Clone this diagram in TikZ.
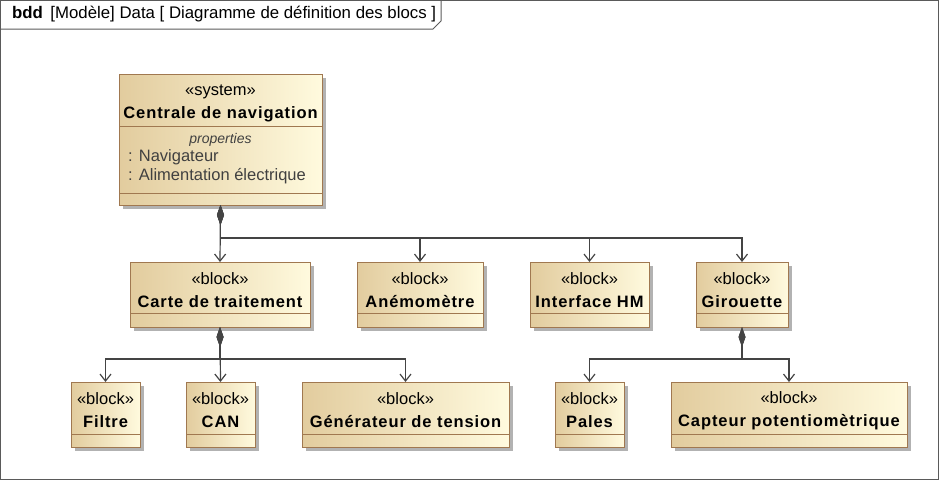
\documentclass[tikz,border=0pt]{standalone}
\usepackage{fontspec}
\setmainfont{Liberation Sans}
\newfontfamily\blkfont[LetterSpace=5.5]{Liberation Sans}
\usetikzlibrary{positioning,shadows,arrows.meta}
\definecolor{tanL}{RGB}{226,204,158}
\definecolor{tanR}{RGB}{255,250,222}
\definecolor{bdr}{RGB}{160,120,80}
\definecolor{ln}{RGB}{68,68,68}
\definecolor{frm}{RGB}{90,90,90}
\begin{document}
\begin{tikzpicture}[x=1pt,y=-1pt,
    blk/.style={draw=bdr, line width=1pt, outer sep=0pt, inner sep=0pt,
      left color=tanL, right color=tanR, align=center,
      drop shadow={shadow xshift=4pt, shadow yshift=-4pt, fill=black!30, opacity=1},
      font=\fontsize{16.5}{23}\selectfont},
    comp/.style={draw=ln, line width=1.2pt,
      {Diamond[length=20pt,width=7pt]}-{Straight Barb[length=7pt,width=11pt]}},
    prop/.style={anchor=west, inner sep=0pt, text=black!75,
      font=\fontsize{16.5}{18}\selectfont}]
    \useasboundingbox (0,0) rectangle (939,480);
    \draw[frm, line width=1pt] (0.5,0.5) rectangle (938.5,479.5);
    \draw[frm, line width=1pt] (0,29) -- (433,29) -- (441,21) -- (441,0);
    \node[anchor=west, inner sep=0pt, font=\fontsize{16.8}{18}\selectfont] (title) at (12,14)
    {\textbf{bdd}\, [Modèle] Data [ Diagramme de définition des blocs ]};

    % system block
    \node[blk, minimum width=203, minimum height=52] (main) at (220.5,100)
    {\rule{0pt}{18pt}«system»\\{\blkfont\bfseries Centrale de navigation}};
    \node[blk, minimum width=203, minimum height=67, below=0pt of main] (main-p) {};
    \node[blk, minimum width=203, minimum height=12, below=0pt of main-p] (main-c) {};
    \node[inner sep=0pt, font=\fontsize{14}{16}\selectfont\itshape, text=black!75]
    (props) at (220.5,140) {properties};
    \node[prop] (nav) at (128,157) {: Navigateur};
    \node[prop] (alim) at (128,176) {: Alimentation électrique};

    % blocks
    \foreach \n/\x/\w/\t in {carte/220/180/Carte de traitement,
      anemo/420/126/Anémomètre, ihm/589.5/119/Interface HM, gir/742/92/Girouette}
    {
      \node[blk, minimum width=\w, minimum height=51] (\n) at (\x,287.5)
      {\rule{0pt}{17pt}«block»\\{\blkfont\bfseries \t}};
      \node[blk, minimum width=\w, minimum height=14, below=0pt of \n] (\n-c) {};
    }
    \foreach \n/\x/\w/\t in {filtre/105.5/69/Filtre, can/220.5/69/CAN,
      gen/405.5/207/Générateur de tension, pales/589.5/69/Pales,
      capt/789/236/Capteur potentiomètrique}
    {
      \node[blk, minimum width=\w, minimum height=52] (\n) at (\x,408)
      {\rule{0pt}{17pt}«block»\\{\blkfont\bfseries \t}};
      \node[blk, minimum width=\w, minimum height=13, below=0pt of \n] (\n-c) {};
    }

    \coordinate (bus1) at (0,238);
    \coordinate (bus2) at (0,359);
    \draw[comp] (main-c.south) -- (carte.north);
    \foreach \n in {anemo,ihm,gir}
      \draw[comp] (main-c.south) |- (bus1 -| \n.north) -- (\n.north);
    \draw[comp] (carte-c.south) -- (can.north);
    \foreach \n in {filtre,gen}
      \draw[comp] (carte-c.south) |- (bus2 -| \n.north) -- (\n.north);
    \foreach \n in {pales,capt}
      \draw[comp] (gir-c.south) |- (bus2 -| \n.north) -- (\n.north);
  \end{tikzpicture}
\end{document}
